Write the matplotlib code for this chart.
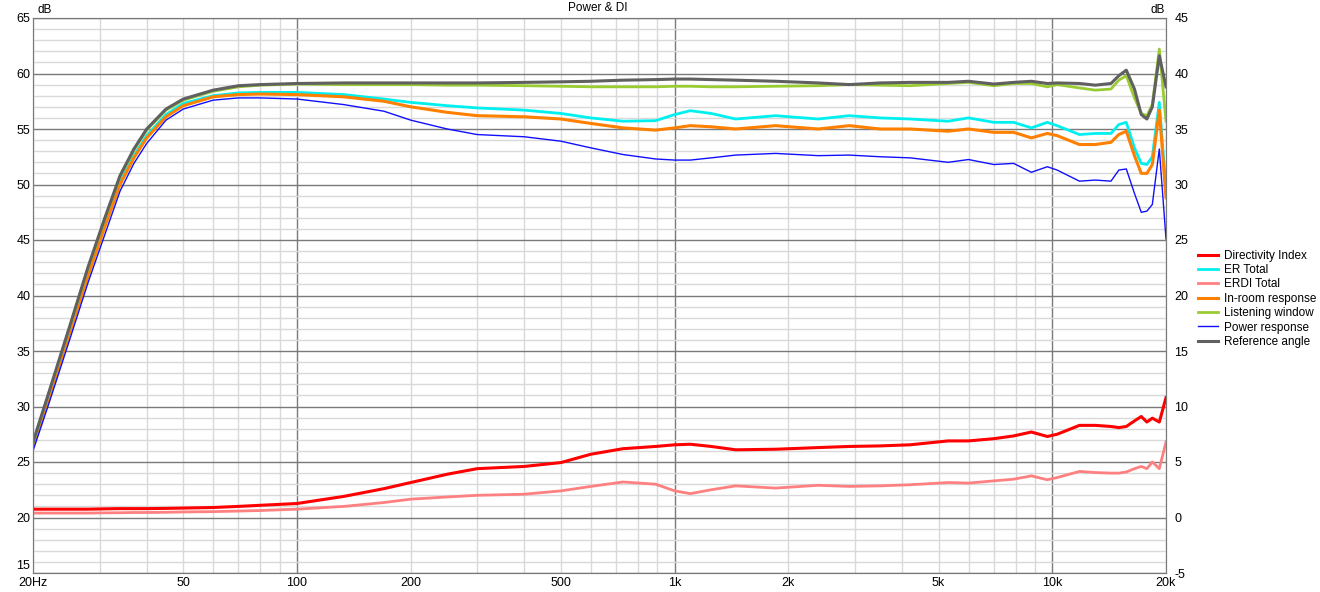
import matplotlib
matplotlib.use("Agg")
import matplotlib.pyplot as plt
from matplotlib.ticker import FixedLocator, MultipleLocator, FuncFormatter

plt.rcParams["font.family"] = ["Liberation Sans", "DejaVu Sans"]
plt.rcParams["axes.unicode_minus"] = False

freq = [20, 22, 25, 28, 31, 34, 37, 40, 45, 50, 60, 70, 80, 100,
        133, 170, 200, 250, 300, 400, 500, 600, 730, 890, 1000, 1100,
        1250, 1450, 1850, 2400, 2900, 3500, 4200, 5300, 6000, 7000, 7900,
        8800, 9700, 10300, 11800, 13000, 14300, 15000, 15700, 16500,
        17200, 17800, 18400, 19200, 20000]

reference_angle = [26.8, 31.2, 37.2, 42.6, 47.0, 50.8, 53.2, 55.0, 56.8, 57.7, 58.5, 58.9, 59.0, 59.1,
                   59.15, 59.15, 59.15, 59.15, 59.15, 59.2, 59.25, 59.3, 59.4, 59.45, 59.5, 59.5,
                   59.45, 59.4, 59.3, 59.15, 59.0, 59.15, 59.2, 59.2, 59.3, 59.05, 59.2,
                   59.3, 59.1, 59.15, 59.1, 58.95, 59.1, 59.8, 60.3, 58.6,
                   56.3, 55.9, 57.0, 61.6, 58.8]

listening_window = [26.7, 31.1, 37.1, 42.5, 46.9, 50.7, 53.1, 54.9, 56.7, 57.6, 58.4, 58.8, 58.95, 59.05,
                    59.0, 59.0, 59.0, 58.95, 58.95, 58.9, 58.85, 58.8, 58.8, 58.8, 58.85, 58.85,
                    58.8, 58.8, 58.85, 58.9, 59.0, 58.95, 58.9, 59.1, 59.2, 58.9, 59.1,
                    59.1, 58.8, 59.0, 58.7, 58.5, 58.6, 59.4, 59.8, 57.8,
                    56.4, 56.2, 57.2, 62.2, 55.7]

er_total = [26.5, 30.8, 36.8, 42.0, 46.4, 50.2, 52.6, 54.4, 56.3, 57.3, 58.0, 58.25, 58.3, 58.3,
            58.1, 57.7, 57.4, 57.1, 56.9, 56.7, 56.4, 56.0, 55.7, 55.75, 56.3, 56.65,
            56.4, 55.9, 56.2, 55.9, 56.2, 56.0, 55.9, 55.7, 56.0, 55.6, 55.6,
            55.1, 55.6, 55.3, 54.5, 54.6, 54.6, 55.4, 55.6, 53.3,
            51.9, 51.8, 52.5, 57.4, 49.5]

in_room = [26.4, 30.6, 36.6, 41.8, 46.2, 50.0, 52.4, 54.2, 56.1, 57.1, 57.9, 58.1, 58.15, 58.1,
           57.9, 57.5, 57.0, 56.5, 56.2, 56.1, 55.9, 55.5, 55.1, 54.9, 55.1, 55.3,
           55.2, 55.0, 55.3, 55.0, 55.3, 55.0, 55.0, 54.8, 55.0, 54.7, 54.7,
           54.2, 54.6, 54.4, 53.6, 53.6, 53.8, 54.5, 54.8, 52.6,
           51.0, 51.0, 51.8, 56.7, 48.8]

power_response = [26.0, 30.2, 36.0, 41.2, 45.5, 49.4, 51.9, 53.7, 55.8, 56.8, 57.6, 57.8, 57.8, 57.7,
                  57.2, 56.6, 55.8, 55.0, 54.5, 54.3, 53.9, 53.3, 52.7, 52.3, 52.2, 52.2,
                  52.4, 52.65, 52.8, 52.6, 52.65, 52.5, 52.4, 52.0, 52.25, 51.8, 51.9,
                  51.1, 51.6, 51.3, 50.3, 50.4, 50.3, 51.3, 51.4, 49.2,
                  47.5, 47.6, 48.2, 53.2, 45.1]

# right axis (DI scale)
directivity_index = [0.75, 0.75, 0.75, 0.75, 0.78, 0.8, 0.8, 0.8, 0.82, 0.85, 0.9, 1.0, 1.1, 1.26,
                     1.9, 2.6, 3.15, 3.9, 4.4, 4.6, 4.95, 5.7, 6.2, 6.4, 6.55, 6.6,
                     6.4, 6.1, 6.15, 6.3, 6.4, 6.45, 6.55, 6.9, 6.9, 7.1, 7.35,
                     7.7, 7.3, 7.5, 8.3, 8.3, 8.2, 8.1, 8.2, 8.7,
                     9.1, 8.6, 8.95, 8.6, 10.8]

erdi_total = [0.4, 0.4, 0.4, 0.4, 0.42, 0.43, 0.45, 0.45, 0.47, 0.5, 0.53, 0.58, 0.63, 0.75,
              1.0, 1.35, 1.65, 1.85, 2.0, 2.1, 2.4, 2.8, 3.2, 3.0, 2.4, 2.15,
              2.5, 2.85, 2.65, 2.9, 2.8, 2.85, 2.95, 3.15, 3.1, 3.3, 3.45,
              3.75, 3.4, 3.6, 4.15, 4.05, 4.0, 4.0, 4.1, 4.4,
              4.6, 4.4, 5.0, 4.4, 6.8]

x_labels = {20: "20Hz", 50: "50", 100: "100", 200: "200", 500: "500",
            1000: "1k", 2000: "2k", 5000: "5k", 10000: "10k", 20000: "20k"}


def main():
    fig = plt.figure(figsize=(13.2, 5.92), dpi=100)
    ax = fig.add_axes([33 / 1320, 1 - 573 / 592, (1166 - 33) / 1320, (573 - 18) / 592])
    ax2 = ax.twinx()

    ax.set_xscale("log")
    ax.set_xlim(20, 20000)
    ax.set_ylim(15, 65)
    ax2.set_ylim(-5, 45)

    minor_x = sorted({m * d for d in (10, 100, 1000) for m in range(2, 10)} | {20000})
    ax.xaxis.set_major_locator(FixedLocator([100, 1000, 10000]))
    ax.xaxis.set_minor_locator(FixedLocator(minor_x))
    fmt = FuncFormatter(lambda v, p: x_labels.get(int(round(v)), ""))
    ax.xaxis.set_major_formatter(fmt)
    ax.xaxis.set_minor_formatter(fmt)

    ax.yaxis.set_major_locator(MultipleLocator(5))
    ax.yaxis.set_minor_locator(MultipleLocator(1))
    # bottom label "15" is lifted above the frequency labels, as in REW
    ax.yaxis.set_major_formatter(FuncFormatter(lambda v, p: "" if v < 16 else f"{v:.0f}"))
    ax2.yaxis.set_major_locator(MultipleLocator(5))

    ax.grid(which="major", color="#7a7a7a", linewidth=1.0)
    ax.grid(which="minor", color="#d9d9d9", linewidth=1.0)
    ax.set_axisbelow(True)

    for a in (ax, ax2):
        a.tick_params(which="both", length=0, labelsize=9, colors="black")
        for s in a.spines.values():
            s.set_color("#7a7a7a")
    ax.tick_params(axis="y", pad=2)
    ax.tick_params(axis="x", which="both", pad=3)
    ax2.tick_params(axis="y", pad=6)

    ax.annotate("15", xy=(0, 15), xycoords=("axes fraction", "data"), xytext=(-2, 5),
                textcoords="offset points", ha="right", va="center", fontsize=9)

    h = []
    h += ax2.plot(freq, directivity_index, color="#ff0000", lw=2.2, label="Directivity Index")
    h += ax.plot(freq, er_total, color="#00f0f0", lw=2.0, label="ER Total")
    h += ax2.plot(freq, erdi_total, color="#ff8080", lw=2.0, label="ERDI Total")
    h += ax.plot(freq, in_room, color="#ff8000", lw=2.2, label="In-room response")
    h += ax.plot(freq, listening_window, color="#99cc33", lw=2.0, label="Listening window")
    h += ax.plot(freq, power_response, color="#1010ff", lw=1.0, label="Power response")
    h += ax.plot(freq, reference_angle, color="#606060", lw=2.2, label="Reference angle")

    fig.legend(handles=h, loc="upper left", bbox_to_anchor=(1193 / 1320, 1 - 245 / 592),
               frameon=False, fontsize=8.5, handlelength=1.7, handletextpad=0.5,
               labelspacing=0.2, borderaxespad=0)

    fig.text(598 / 1320, 1 - 8 / 592, "Power & DI", ha="center", va="center", fontsize=8.5)
    fig.text(37 / 1320, 1 - 10 / 592, "dB", ha="left", va="center", fontsize=8.5)
    fig.text(1165 / 1320, 1 - 10 / 592, "dB", ha="right", va="center", fontsize=8.5)

    fig.savefig("out.png", dpi=100)


if __name__ == "__main__":
    main()
